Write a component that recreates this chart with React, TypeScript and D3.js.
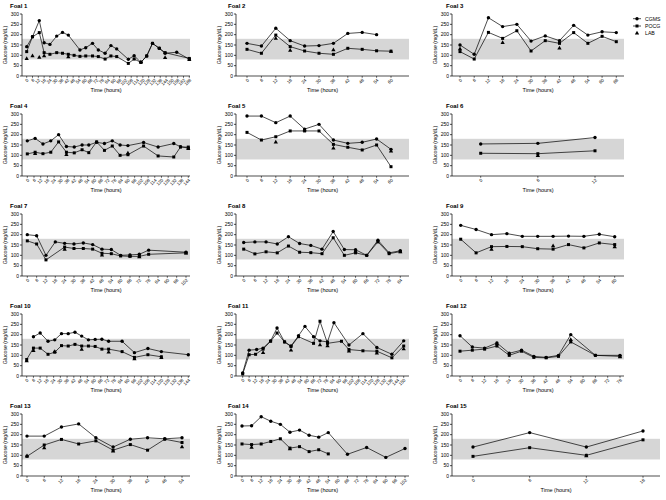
import React from 'react';
import * as d3 from 'd3';

type P = [number, number];

const yTickValues = [0, 50, 100, 150, 200, 250, 300];
const bandLow = 80;
const bandHigh = 180;
const seriesNames = ['CGMS', 'POCG', 'LAB'];

// Foal 1
const f1Ticks = [0,6,12,18,24,30,36,42,48,54,60,66,72,78,84,90,96,102,108,114,120,126,132,138,144,150,156,162,168];
const f1Cgms: P[] = [[0,142],[6,190],[13,268],[18,161],[24,153],[31,193],[37,211],[43,198],[55,126],[61,137],[68,158],[74,126],[81,110],[87,147],[93,131],[105,81],[111,98],[118,66],[124,97],[130,158],[137,134],[143,110],[155,115],[168,82]];
const f1Pocg: P[] = [[0,118],[6,190],[13,210],[18,113],[24,105],[31,113],[37,110],[43,105],[49,100],[55,95],[61,97],[68,97],[74,94],[81,82],[87,97],[93,94],[105,61],[111,82],[118,66],[124,97],[130,158],[137,134],[143,113],[168,85]];
const f1Lab: P[] = [[0,84],[6,97],[13,89],[18,97],[43,92],[118,68],[143,88],[168,78]];

// Foal 2
const f2Ticks = [0,6,12,18,24,30,36,42,48,54,60];
const f2Cgms: P[] = [[0,158],[6,145],[12,231],[18,171],[24,145],[30,147],[36,158],[42,206],[48,211],[54,200]];
const f2Pocg: P[] = [[0,129],[6,110],[12,198],[18,142],[24,121],[30,110],[36,105],[42,134],[48,129],[54,122],[60,120]];
const f2Lab: P[] = [[12,182],[18,123],[36,126],[60,118]];

// Foal 3
const f3Ticks = [0,6,12,18,24,30,36,42,48,54,60,66];
const f3Cgms: P[] = [[0,150],[6,105],[12,282],[18,239],[24,250],[30,169],[36,194],[42,171],[48,245],[54,198],[60,214],[66,210]];
const f3Pocg: P[] = [[0,118],[6,82],[12,211],[18,182],[24,219],[30,121],[36,171],[42,158],[48,210],[54,158],[60,192],[66,166]];
const f3Lab: P[] = [[0,131],[18,161],[42,134]];

// Foal 4
const f4Ticks = [0,6,12,18,24,30,36,42,48,54,60,66,72,78,84,90,96,102,108,114,120,126,132,138,144];
const f4Cgms: P[] = [[0,170],[7,182],[14,155],[21,170],[28,200],[35,143],[42,140],[49,150],[55,150],[62,163],[69,157],[76,170],[83,150],[90,147],[104,162],[117,140],[131,157],[137,142],[144,135]];
const f4Pocg: P[] = [[0,107],[7,115],[14,108],[21,115],[28,165],[35,115],[42,112],[49,127],[55,113],[62,165],[69,124],[76,145],[83,100],[90,103],[104,145],[117,97],[131,92],[137,140],[144,140]];
const f4Lab: P[] = [[7,108],[35,103],[90,110],[144,132]];

// Foal 5
const f5Ticks = [0,6,12,18,24,30,36,42,48,54,60];
const f5Cgms: P[] = [[0,290],[6,290],[12,258],[18,290],[24,227],[30,250],[36,174],[42,158],[48,163],[54,179],[60,129]];
const f5Pocg: P[] = [[0,211],[6,174],[12,190],[18,218],[24,218],[30,218],[36,153],[42,139],[48,126],[54,150],[60,45]];
const f5Lab: P[] = [[12,163],[24,222],[36,134],[60,120]];

// Foal 6
const f6Ticks = [0,6,12];
const f6Cgms: P[] = [[0,155],[6,158],[12,186]];
const f6Pocg: P[] = [[0,110],[6,108],[12,122]];
const f6Lab: P[] = [[6,98]];

// Foal 7
const f7Ticks = [0,6,12,18,24,30,36,42,48,54,60,66,72,78,84,90,96,102];
const f7Cgms: P[] = [[0,200],[6,195],[12,100],[18,165],[24,158],[30,155],[36,160],[42,152],[48,130],[54,128],[60,100],[66,102],[72,105],[78,125],[102,115]];
const f7Pocg: P[] = [[0,170],[6,155],[12,78],[24,140],[30,133],[36,133],[42,130],[48,110],[54,108],[60,97],[66,95],[72,95],[78,105],[102,112]];
const f7Lab: P[] = [[24,128],[48,100],[66,97],[72,92],[102,110]];

// Foal 8
const f8Ticks = [0,6,12,18,24,30,36,42,48,54,60,66,72,78,84];
const f8Cgms: P[] = [[0,162],[6,165],[12,165],[18,155],[24,190],[30,157],[36,148],[42,130],[48,215],[54,128],[60,127],[66,100],[72,173],[78,112],[84,122]];
const f8Pocg: P[] = [[0,130],[6,107],[12,117],[18,112],[24,145],[30,115],[36,113],[42,108],[48,185],[54,100],[60,112],[66,100],[72,165],[78,108],[84,118]];
const f8Lab: P[] = [[60,120],[84,116]];

// Foal 9
const f9Ticks = [0,6,12,18,24,30,36,42,48,54,60];
const f9Cgms: P[] = [[0,245],[6,225],[12,200],[18,205],[24,192],[30,192],[36,192],[42,193],[48,192],[54,202],[60,190]];
const f9Pocg: P[] = [[0,178],[6,112],[12,142],[18,143],[24,142],[30,132],[36,130],[42,152],[48,136],[54,160],[60,152]];
const f9Lab: P[] = [[12,128],[36,145],[60,140]];

// Foal 10
const f10Ticks = [0,6,12,18,24,30,36,42,48,54,60,66,72,78,84,90,96,102,108,114,120,126,132,138,144];
const f10Cgms: P[] = [[6,190],[12,208],[19,168],[25,175],[31,205],[37,205],[43,212],[49,193],[55,175],[61,177],[67,178],[73,168],[85,168],[96,113],[108,133],[120,118],[144,103]];
const f10Pocg: P[] = [[0,80],[6,135],[12,135],[19,105],[25,115],[31,147],[37,145],[43,153],[49,145],[55,145],[61,143],[67,130],[73,130],[85,118],[96,90],[108,103],[120,93]];
const f10Lab: P[] = [[0,72],[6,122],[25,117],[49,128],[73,115],[96,82],[120,88]];

// Foal 11
const f11Ticks = [0,6,12,18,24,30,36,42,48,54,60,66,72,78,84,90,96,102,108,114,120,126,132,138,144,150];
const f11Cgms: P[] = [[0,15],[6,125],[13,128],[19,135],[26,170],[32,232],[39,165],[45,145],[52,195],[58,240],[66,190],[72,170],[79,165],[85,258],[99,150],[112,205],[125,138],[139,105],[150,170]];
const f11Pocg: P[] = [[0,10],[6,103],[12,105],[19,130],[26,168],[32,208],[39,165],[45,143],[52,190],[66,158],[72,265],[79,158],[92,168],[99,128],[112,122],[125,120],[139,88],[150,145]];
const f11Lab: P[] = [[19,112],[45,125],[72,150],[79,145],[99,120],[125,110],[150,130]];

// Foal 12
const f12Ticks = [0,6,12,18,24,30,36,42,48,54,60,66,72,78];
const f12Cgms: P[] = [[0,195],[6,140],[12,135],[18,160],[24,110],[30,125],[36,95],[42,90],[48,100],[54,200],[66,100],[78,100]];
const f12Pocg: P[] = [[0,120],[6,125],[12,130],[18,145],[24,100],[30,120],[36,90],[42,88],[48,95],[54,165],[66,100],[78,95]];
const f12Lab: P[] = [[18,155],[54,175],[78,92]];

// Foal 13
const f13Ticks = [0,6,12,18,24,30,36,42,48,54];
const f13Cgms: P[] = [[0,193],[6,193],[12,237],[18,252],[24,185],[30,140],[36,178],[42,185],[48,180],[54,185]];
const f13Pocg: P[] = [[0,95],[6,150],[12,177],[18,155],[24,170],[30,125],[36,152],[42,125],[48,178],[54,162]];
const f13Lab: P[] = [[0,97],[6,135],[30,120],[54,140]];

// Foal 14
const f14Ticks = [0,6,12,18,24,30,36,42,48,54,60,66,72,78,84,90,96,102];
const f14Cgms: P[] = [[0,242],[6,243],[12,287],[18,265],[24,250],[30,212],[36,222],[42,197],[48,188],[54,210],[66,105],[78,138],[90,90],[102,133]];
const f14Pocg: P[] = [[0,155],[6,152],[12,155],[18,167],[24,180],[30,135],[36,142],[42,118],[48,127],[54,107]];
const f14Lab: P[] = [[6,138],[30,130]];

// Foal 15
const f15Ticks = [0,6,12,18];
const f15Cgms: P[] = [[0,140],[6,210],[12,140],[18,218]];
const f15Pocg: P[] = [[0,95],[6,137],[12,100],[18,175]];
const f15Lab: P[] = [[12,97]];

const foals = [
  { name: 'Foal 1', ticks: f1Ticks, cgms: f1Cgms, pocg: f1Pocg, lab: f1Lab },
  { name: 'Foal 2', ticks: f2Ticks, cgms: f2Cgms, pocg: f2Pocg, lab: f2Lab },
  { name: 'Foal 3', ticks: f3Ticks, cgms: f3Cgms, pocg: f3Pocg, lab: f3Lab },
  { name: 'Foal 4', ticks: f4Ticks, cgms: f4Cgms, pocg: f4Pocg, lab: f4Lab },
  { name: 'Foal 5', ticks: f5Ticks, cgms: f5Cgms, pocg: f5Pocg, lab: f5Lab },
  { name: 'Foal 6', ticks: f6Ticks, cgms: f6Cgms, pocg: f6Pocg, lab: f6Lab },
  { name: 'Foal 7', ticks: f7Ticks, cgms: f7Cgms, pocg: f7Pocg, lab: f7Lab },
  { name: 'Foal 8', ticks: f8Ticks, cgms: f8Cgms, pocg: f8Pocg, lab: f8Lab },
  { name: 'Foal 9', ticks: f9Ticks, cgms: f9Cgms, pocg: f9Pocg, lab: f9Lab },
  { name: 'Foal 10', ticks: f10Ticks, cgms: f10Cgms, pocg: f10Pocg, lab: f10Lab },
  { name: 'Foal 11', ticks: f11Ticks, cgms: f11Cgms, pocg: f11Pocg, lab: f11Lab },
  { name: 'Foal 12', ticks: f12Ticks, cgms: f12Cgms, pocg: f12Pocg, lab: f12Lab },
  { name: 'Foal 13', ticks: f13Ticks, cgms: f13Cgms, pocg: f13Pocg, lab: f13Lab },
  { name: 'Foal 14', ticks: f14Ticks, cgms: f14Cgms, pocg: f14Pocg, lab: f14Lab },
  { name: 'Foal 15', ticks: f15Ticks, cgms: f15Cgms, pocg: f15Pocg, lab: f15Lab },
];

// layout (pixels): axis extent and first/last tick positions per panel
const axisSpan: [number, number][] = [
  [22, 190], [236, 409], [452, 624],
  [22, 190], [236, 409], [452, 624],
  [22, 190], [236, 409], [452, 624],
  [22, 190], [236, 409], [452, 624],
  [22, 190], [236, 409], [452, 660],
];
const tickSpan: [number, number][] = [
  [26.7, 189.3], [247, 391], [460, 616.3],
  [27.3, 188.3], [247, 391], [480.7, 595],
  [27.3, 186], [243.7, 400.3], [460.7, 614.7],
  [26.7, 188.3], [242.7, 403.7], [460, 620],
  [27, 182], [242, 405], [473, 643],
];
const titleX = [10, 228, 446];

const FONT = 'Liberation Sans, Arial, Helvetica, sans-serif';

const sym = {
  c: d3.symbol(d3.symbolCircle, 9)() as string,
  s: d3.symbol(d3.symbolSquare, 9)() as string,
  t: d3.symbol(d3.symbolTriangle, 8)() as string,
};

function Panel({ idx }: { idx: number }) {
  const f = foals[idx];
  const col = idx % 3;
  const row = Math.floor(idx / 3);
  const [XL, XR] = axisSpan[idx];
  const y0 = 76 + 100 * row;
  const y1 = 14 + 100 * row;
  const x = d3.scaleLinear().domain([f.ticks[0], f.ticks[f.ticks.length - 1]]).range(tickSpan[idx]);
  const y = d3.scaleLinear().domain([0, 300]).range([y0, y1]);
  const line = d3.line<P>().x(d => x(d[0])).y(d => y(d[1]));
  return (
    <g>
      <rect x={XL} y={y(bandHigh)} width={XR - XL} height={y(bandLow) - y(bandHigh)} fill="#d6d6d6" />
      <text x={titleX[col]} y={8 + 100 * row} fontSize={6} fontWeight="bold" fontFamily={FONT}>{f.name}</text>
      <line x1={XL} x2={XL} y1={y(0)} y2={y(300)} stroke="#000" strokeWidth={0.7} />
      {yTickValues.map(v => (
        <g key={v}>
          <line x1={XL - 2} x2={XL} y1={y(v)} y2={y(v)} stroke="#000" strokeWidth={0.7} />
          <text x={XL - 3} y={y(v)} dy="0.35em" textAnchor="end" fontSize={5} fontFamily={FONT}>{v}</text>
        </g>
      ))}
      <text transform={`translate(${XL - 15},${(y0 + y1) / 2}) rotate(-90)`} textAnchor="middle" fontSize={5.2} fontFamily={FONT}>Glucose (mg/dL)</text>
      <line x1={XL} x2={XR} y1={y0} y2={y0} stroke="#000" strokeWidth={0.7} />
      {f.ticks.map(t => (
        <g key={t}>
          <line x1={x(t)} x2={x(t)} y1={y0} y2={y0 + 1.8} stroke="#000" strokeWidth={0.6} />
          <text transform={`translate(${x(t) + 1.2},${y0 + 3.5}) rotate(-45)`} textAnchor="end" dy="0.3em" fontSize={4.5} fontFamily={FONT}>{t}</text>
        </g>
      ))}
      <text x={(XL + XR) / 2} y={y0 + 16} textAnchor="middle" fontSize={5.5} fontFamily={FONT}>Time (hours)</text>
      <path d={line(f.cgms) as string} fill="none" stroke="#000" strokeWidth={0.7} />
      <path d={line(f.pocg) as string} fill="none" stroke="#000" strokeWidth={0.7} />
      {f.cgms.map((d, i) => <path key={'c' + i} d={sym.c} transform={`translate(${x(d[0])},${y(d[1])})`} fill="#000" />)}
      {f.pocg.map((d, i) => <path key={'s' + i} d={sym.s} transform={`translate(${x(d[0])},${y(d[1])})`} fill="#000" />)}
      {f.lab.map((d, i) => <path key={'t' + i} d={sym.t} transform={`translate(${x(d[0])},${y(d[1])})`} fill="#000" />)}
    </g>
  );
}

export default function App() {
  const legendY = [18.7, 26, 33.3];
  const legendSym = [sym.c, sym.s, sym.t];
  return (
    <svg width={666} height={500} style={{ display: 'block', position: 'absolute', left: 0, top: 0, background: '#fff' }}>
      <rect width={666} height={500} fill="#fff" />
      {foals.map((_, i) => <Panel key={i} idx={i} />)}
      {seriesNames.map((n, i) => (
        <g key={n}>
          <line x1={633} x2={641} y1={legendY[i]} y2={legendY[i]} stroke="#000" strokeWidth={0.7} opacity={i < 2 ? 1 : 0} />
          <path d={legendSym[i]} transform={`translate(637,${legendY[i]})`} fill="#000" />
          <text x={645} y={legendY[i]} dy="0.35em" fontSize={5.2} fontFamily={FONT}>{n}</text>
        </g>
      ))}
    </svg>
  );
}
